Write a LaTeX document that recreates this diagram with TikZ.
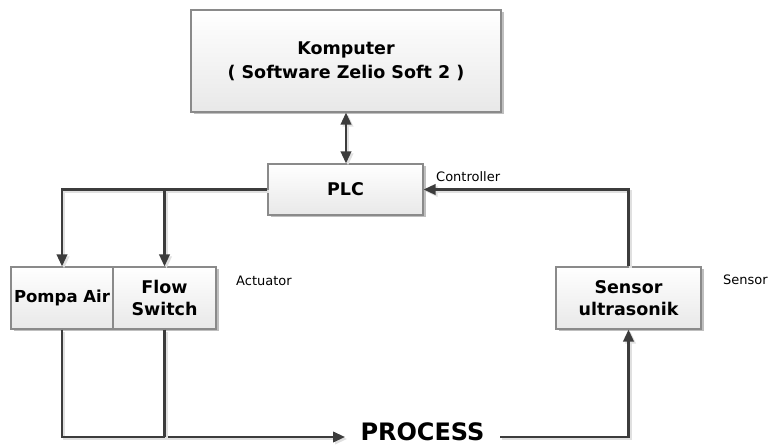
\documentclass[tikz,border=0pt]{standalone}
\usepackage{fontspec}
\setmainfont{DejaVu Sans}
\usetikzlibrary{arrows.meta,shadows,calc}
\definecolor{wirecol}{HTML}{3C3C3C}
\definecolor{edgecol}{HTML}{8A8A8A}
\begin{document}
\begin{tikzpicture}[x=1pt,y=-1pt,
  >={Triangle[length=12pt,width=10.5pt]},
  box/.style={draw=edgecol, line width=1.2pt, top color=white, bottom color=black!9,
    drop shadow={shadow xshift=2.5pt, shadow yshift=-2.5pt, fill=black!25, opacity=1},
    align=center, inner sep=0pt, text=black,
    font=\fontsize{17.5}{24}\selectfont\bfseries},
  twoline/.style={font=\fontsize{17.5}{22}\selectfont\bfseries},
  lbl/.style={anchor=west, inner sep=0pt, font=\fontsize{13}{15}\selectfont},
  wire/.style={draw=wirecol, line width=2.2pt,
    preaction={draw=black!12, line width=2.2pt, transform canvas={shift={(2pt,-2pt)}}}}
]
\useasboundingbox (0,0) rectangle (769,446);

% blocks
\node[box, minimum width=310pt, minimum height=102pt] (komp) at (346,61)
  {Komputer\\( Software Zelio Soft 2 )};
\node[box, minimum width=155pt, minimum height=51pt] (plc) at (345.5,189.5) {PLC};
\node[box, font=\fontsize{16.5}{22}\selectfont\bfseries, minimum width=102pt, minimum height=62pt] (pompa) at (62,298) {Pompa Air};
\node[box, twoline, minimum width=103pt, minimum height=62pt] (flow) at (164.5,298) {Flow\\Switch};
\node[box, twoline, minimum width=145pt, minimum height=62pt] (sensor) at (628.5,298) {Sensor\\ultrasonik};

% side labels
\node[lbl] (ctl) at (436,177) {Controller};
\node[lbl] (act) at (236,281) {Actuator};
\node[lbl] (sen) at (723,280) {Sensor};

% process
\node[inner sep=0pt, font=\fontsize{24}{24}\selectfont\bfseries] (proc) at (422.5,431.5) {PROCESS};
\coordinate (pin) at (345,437);
\coordinate (pout) at (500,437);

% connectors
\draw[wire,<->] (komp.south) -- (komp.south |- plc.north);
\draw[wire,->] (plc.west) -| (pompa.north);
\draw[wire,->] (plc.west -| flow.north) -- (flow.north);
\draw[wire,->] (sensor.north) |- (plc.east);
\draw[wire,->] (pompa.south) |- (pin);
\draw[wire] (flow.south) -- (flow.south |- pin);
\draw[wire,->] (pout) -| (sensor.south);
\end{tikzpicture}
\end{document}
